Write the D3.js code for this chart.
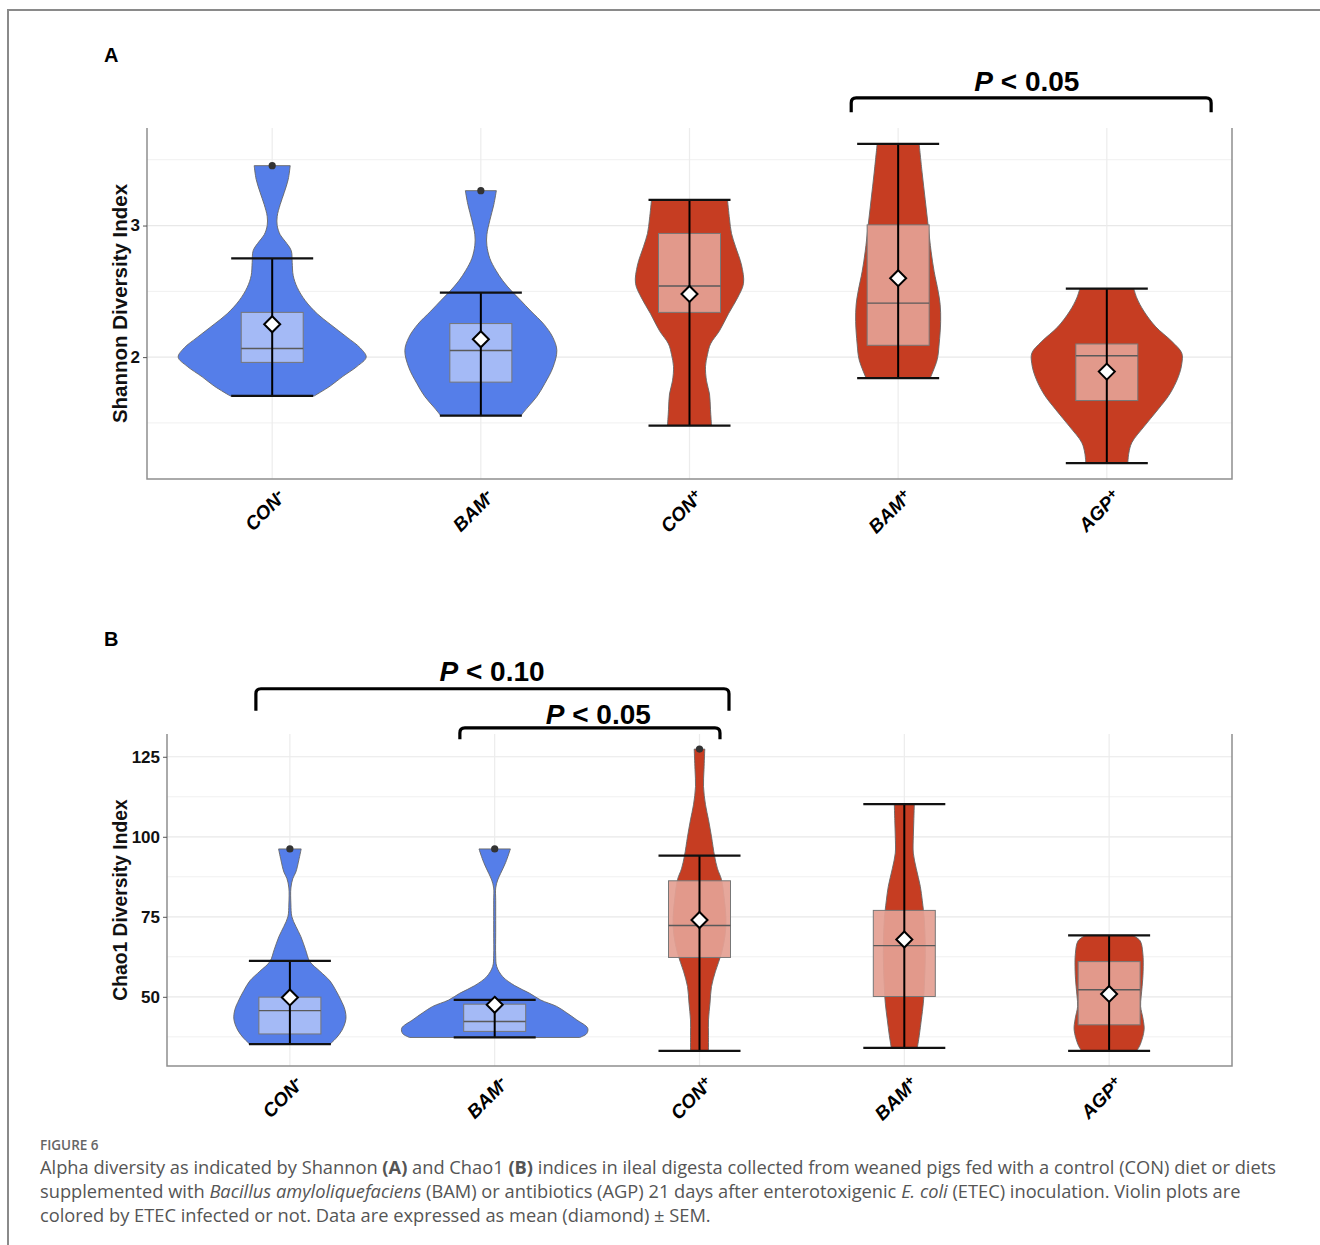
<!DOCTYPE html>
<html>
<head>
<meta charset="utf-8">
<script src="https://cdn.jsdelivr.net/npm/d3@7"></script>
<style>
  body { margin: 0; background: #fff; }
  svg text { font-family: "Liberation Sans", Arial, sans-serif; }
</style>
</head>
<body>
<div id="fig"></div>
<script>
// ---- data ----
const groups = ["CON-", "BAM-", "CON+", "BAM+", "AGP+"];
const infected = [false, false, true, true, true];

// Shannon (panel A)
const shannonBox = [[1.96, 2.066, 2.34], [1.81, 2.05, 2.255], [2.34, 2.54, 2.94], [2.09, 2.41, 3.005], [1.67, 2.01, 2.10]];
const shannonMean = [2.25, 2.136, 2.48, 2.60, 1.89];
const shannonWhisker = [[1.705, 2.75], [1.555, 2.49], [1.48, 3.195], [1.84, 3.62], [1.195, 2.52]];
const shannonOutliers = [[3.455], [3.265], [], [], []];
const shannonDensity = [
  [[1.705, .42], [1.78, .58], [1.85, .70], [1.93, .85], [2.0, .94], [2.07, .88], [2.15, .75], [2.25, .58], [2.33, .45], [2.43, .33], [2.53, .25], [2.62, .21], [2.72, .20], [2.81, .19], [2.88, .13], [2.93, .08], [3.0, .05], [3.07, .05], [3.16, .08], [3.25, .12], [3.35, .16], [3.455, .18]],
  [[1.555, .40], [1.62, .47], [1.7, .56], [1.8, .64], [1.92, .72], [2.05, .76], [2.15, .72], [2.25, .63], [2.35, .50], [2.43, .40], [2.5, .31], [2.58, .22], [2.66, .15], [2.75, .09], [2.85, .06], [2.93, .06], [3.04, .09], [3.16, .13], [3.265, .155]],
  [[1.48, .22], [1.6, .21], [1.72, .20], [1.82, .17], [1.93, .16], [2.02, .18], [2.1, .21], [2.2, .30], [2.33, .39], [2.45, .48], [2.56, .54], [2.7, .52], [2.84, .46], [2.94, .42], [3.05, .40], [3.195, .38]],
  [[1.84, .32], [1.98, .39], [2.1, .41], [2.27, .425], [2.4, .42], [2.5, .40], [2.65, .36], [2.8, .33], [3.0, .30], [3.2, .27], [3.4, .24], [3.62, .21]],
  [[1.195, .21], [1.27, .22], [1.35, .25], [1.47, .37], [1.6, .51], [1.72, .63], [1.85, .715], [1.95, .75], [2.03, .75], [2.12, .65], [2.23, .49], [2.35, .37], [2.45, .30], [2.52, .27]]
];
const shannonTicks = [2, 3];
const shannonMinor = [1.5, 2.5, 3.5];

// Chao1 (panel B)
const chaoBox = [[38.4, 45.7, 49.9], [39.2, 42.3, 47.7], [62.3, 72.3, 86.25], [50.1, 66, 77], [41.25, 52.2, 61]];
const chaoMean = [49.8, 47.5, 74.0, 67.9, 50.9];
const chaoWhisker = [[35.2, 61.2], [37.3, 49.06], [33.1, 94.1], [34.06, 110.2], [33.1, 69.2]];
const chaoOutliers = [[96.2], [96.2], [127.4], [], []];
const chaoDensity = [
  [[35.2, .40], [37, .46], [39.5, .52], [43, .56], [46, .55], [49, .51], [52, .46], [55, .40], [58, .30], [61, .20], [64.7, .157], [68.8, .11], [72, .06], [75, .02], [79, .01], [84, .01], [87, .03], [89, .06], [92.8, .09], [96.2, .113]],
  [[37.3, .85], [38.5, .92], [40.2, .93], [42.8, .82], [45, .72], [47, .62], [49, .46], [51.1, .35], [53.5, .20], [56.3, .08], [59.5, .02], [63, .01], [70, .01], [80, .01], [84, .01], [86.5, .03], [88.6, .06], [92, .11], [96.2, .157]],
  [[33.1, .09], [38, .09], [42.8, .09], [48, .105], [53.2, .12], [58, .16], [63.6, .22], [69, .255], [74.1, .265], [80, .25], [86.6, .22], [90, .18], [94.1, .15], [100, .12], [105.3, .09], [110, .06], [115.7, .04], [121, .045], [127.4, .053]],
  [[34.06, .13], [38, .15], [42.8, .17], [48, .19], [53.2, .20], [63.6, .21], [74.1, .20], [80, .18], [84.5, .16], [90, .12], [94.9, .09], [100, .09], [105, .095], [110.2, .10]],
  [[33.1, .275], [35, .31], [39.7, .35], [43, .34], [47, .315], [50, .32], [53.2, .33], [58, .34], [63.6, .337], [67.5, .31], [69.2, .235]]
];
const chaoTicks = [50, 75, 100, 125];
const chaoMinor = [37.5, 62.5, 87.5, 112.5];

// ---- drawing ----
const W = 1320, H = 1245;
const svg = d3.select("#fig").append("svg").attr("width", W).attr("height", H);

const colViolin = d3.scaleOrdinal().domain([false, true]).range(["#557ee9", "#c63d22"]);
const colBox = d3.scaleOrdinal().domain([false, true]).range(["#aabef6", "#e4a093"]);
const halfW = d3.scaleLinear().domain([0, 1]).range([0, 100]);

// page frame
svg.append("path").attr("d", `M8,${H} V10 H${W}`).attr("fill", "none").attr("stroke", "#8a8a8a").attr("stroke-width", 2);

function panel(o) {
  const g = svg.append("g");
  const all = o.whisker.flat().concat(o.outliers.flat());
  const lo = d3.min(all), hi = d3.max(all), pad = (hi - lo) * 0.05;
  const y = d3.scaleLinear().domain([lo - pad, hi + pad]).range([o.bottom, o.top]);
  const x = d3.scalePoint().domain(groups).range([o.left, o.right]).padding(0.6);
  const xi = d3.scaleLinear().domain([0, 1]).range([x(groups[0]), x(groups[1])]);

  // grid
  g.selectAll(".minor").data(o.minor).join("line")
    .attr("x1", o.left).attr("x2", o.right).attr("y1", d => y(d)).attr("y2", d => y(d))
    .attr("stroke", "#f0f0f0").attr("stroke-width", 1);
  g.selectAll(".major").data(o.ticks).join("line")
    .attr("x1", o.left).attr("x2", o.right).attr("y1", d => y(d)).attr("y2", d => y(d))
    .attr("stroke", "#e8e8e8").attr("stroke-width", 1.2);
  g.selectAll(".vgrid").data(groups).join("line")
    .attr("x1", d => x(d)).attr("x2", d => x(d)).attr("y1", o.top).attr("y2", o.bottom)
    .attr("stroke", "#ececec").attr("stroke-width", 1.2);

  // violins
  groups.forEach((gr, i) => {
    const cx = x(gr);
    const area = d3.area().curve(d3.curveCatmullRom)
      .y(d => y(d[0])).x0(d => cx - halfW(d[1])).x1(d => cx + halfW(d[1]));
    g.append("path").attr("d", area(o.density[i]))
      .attr("fill", colViolin(infected[i])).attr("stroke", "#666").attr("stroke-width", 0.9);

    const [q1, med, q3] = o.box[i];
    g.append("rect").attr("x", cx - 31).attr("width", 62)
      .attr("y", y(q3)).attr("height", y(q1) - y(q3))
      .attr("fill", colBox(infected[i])).attr("fill-opacity", 0.93)
      .attr("stroke", "#777").attr("stroke-width", 1);
    g.append("line").attr("x1", cx - 31).attr("x2", cx + 31).attr("y1", y(med)).attr("y2", y(med))
      .attr("stroke", "#5a5a5a").attr("stroke-width", 1.4);

    const [wl, wh] = o.whisker[i];
    g.append("line").attr("x1", cx).attr("x2", cx).attr("y1", y(wl)).attr("y2", y(wh))
      .attr("stroke", "#000").attr("stroke-width", 2);
    [wl, wh].forEach(v => g.append("line")
      .attr("x1", cx - 41).attr("x2", cx + 41).attr("y1", y(v)).attr("y2", y(v))
      .attr("stroke", "#111").attr("stroke-width", 2.2));

    o.outliers[i].forEach(v => g.append("circle").attr("cx", cx).attr("cy", y(v)).attr("r", 3.6).attr("fill", "#333"));

    const my = y(o.mean[i]), s = 8;
    g.append("path").attr("d", `M${cx},${my - s} L${cx + s},${my} L${cx},${my + s} L${cx - s},${my} Z`)
      .attr("fill", "#fff").attr("stroke", "#000").attr("stroke-width", 2);
  });

  // plot border (left, bottom, right)
  g.append("path").attr("d", `M${o.left},${o.top} V${o.bottom} H${o.right} V${o.top}`)
    .attr("fill", "none").attr("stroke", "#8f8f8f").attr("stroke-width", 1.5);

  // y axis
  const ya = g.append("g").attr("transform", `translate(${o.left},0)`)
    .call(d3.axisLeft(y).tickValues(o.ticks).tickSize(4).tickPadding(3).tickFormat(d3.format("d")));
  ya.select(".domain").remove();
  ya.selectAll(".tick line").attr("stroke", "#555");
  ya.selectAll(".tick text").attr("fill", "#111").attr("font-size", 17).attr("font-weight", "bold");

  // x axis labels
  const xa = g.append("g").attr("transform", `translate(0,${o.bottom})`)
    .call(d3.axisBottom(x).tickSize(0).tickFormat(""));
  xa.select(".domain").remove();
  xa.selectAll(".tick").append("text")
    .attr("transform", "translate(4,9) rotate(-45)")
    .attr("text-anchor", "end").attr("dy", "0.75em")
    .attr("fill", "#000").attr("font-size", 19).attr("font-weight", "bold").attr("font-style", "italic")
    .each(function (d) {
      const t = d3.select(this);
      const sign = d.slice(-1);
      t.append("tspan").text(d.slice(0, -1));
      t.append("tspan").text(sign)
        .attr("font-size", sign === "-" ? 17 : 14)
        .attr("dy", sign === "-" ? "-0.3em" : "-0.4em");
    });

  // y title
  g.append("text")
    .attr("transform", `translate(${o.left - o.titleOffset},${(o.top + o.bottom) / 2}) rotate(-90)`)
    .attr("text-anchor", "middle").attr("font-size", o.titleSize).attr("font-weight", "bold").attr("fill", "#111")
    .text(o.title);

  // panel letter
  svg.append("text").attr("x", 104).attr("y", o.letterY)
    .attr("font-size", 20).attr("font-weight", "bold").text(o.letter);

  // significance brackets
  o.brackets.forEach(b => {
    const x1 = xi(b.from), x2 = xi(b.to), yh = y(b.level), yl = y(b.leg), r = 5;
    g.append("path")
      .attr("d", `M${x1},${yl} V${yh + r} Q${x1},${yh} ${x1 + r},${yh} H${x2 - r} Q${x2},${yh} ${x2},${yh + r} V${yl}`)
      .attr("fill", "none").attr("stroke", "#000").attr("stroke-width", 3.2);
    const t = g.append("text").attr("x", xi(b.textAt)).attr("y", y(b.textY))
      .attr("text-anchor", "middle").attr("font-family", "'Open Sans', sans-serif")
      .attr("font-size", 28).attr("font-weight", 600).attr("fill", "#000");
    t.append("tspan").attr("font-style", "italic").text("P");
    t.append("tspan").text(" < " + b.label);
  });
}

panel({
  top: 128, bottom: 479, left: 147, right: 1232,
  box: shannonBox, mean: shannonMean, whisker: shannonWhisker, outliers: shannonOutliers,
  density: shannonDensity, ticks: shannonTicks, minor: shannonMinor,
  title: "Shannon Diversity Index", titleOffset: 20, titleSize: 20.5, letter: "A", letterY: 62,
  brackets: [{ from: 2.775, to: 4.5, level: 3.97, leg: 3.86, textAt: 3.617, textY: 4.02, label: "0.05" }]
});

panel({
  top: 734, bottom: 1066, left: 167, right: 1232,
  box: chaoBox, mean: chaoMean, whisker: chaoWhisker, outliers: chaoOutliers,
  density: chaoDensity, ticks: chaoTicks, minor: chaoMinor,
  title: "Chao1 Diversity Index", titleOffset: 40, titleSize: 19.3, letter: "B", letterY: 646,
  brackets: [
    { from: -0.166, to: 2.144, level: 146.25, leg: 139.4, textAt: 0.987, textY: 148.75, label: "0.10" },
    { from: 0.83, to: 2.10, level: 134, leg: 130.5, textAt: 1.506, textY: 135.3, label: "0.05" }
  ]
});

// ---- caption ----
const cap = svg.append("g").attr("fill", "#555");
cap.append("text").attr("x", 40).attr("y", 1150).attr("font-size", 13.5).attr("font-weight", 600)
  .attr("fill", "#666").style("font-family", "'Open Sans', sans-serif").text("FIGURE 6");

const captionLines = [
  [["Alpha diversity as indicated by Shannon ", ""], ["(A)", "b"], [" and Chao1 ", ""], ["(B)", "b"], [" indices in ileal digesta collected from weaned pigs fed with a control (CON) diet or diets", ""]],
  [["supplemented with ", ""], ["Bacillus amyloliquefaciens", "i"], [" (BAM) or antibiotics (AGP) 21 days after enterotoxigenic ", ""], ["E. coli", "i"], [" (ETEC) inoculation. Violin plots are", ""]],
  [["colored by ETEC infected or not. Data are expressed as mean (diamond) \u00b1 SEM.", ""]]
];
const capTexts = captionLines.map((line, k) => {
  const t = cap.append("text").attr("x", 40).attr("y", 1174 + k * 24).attr("font-size", 17)
    .style("font-family", "'Open Sans', sans-serif");
  line.forEach(([s, f]) => {
    const sp = t.append("tspan").text(s);
    if (f === "b") sp.attr("font-weight", "bold");
    if (f === "i") sp.attr("font-style", "italic");
  });
  return t;
});
const w0 = capTexts[0].node().getComputedTextLength();
const fs = 17 * 1237 / w0;
capTexts.forEach(t => t.attr("font-size", fs));
</script>
</body>
</html>
